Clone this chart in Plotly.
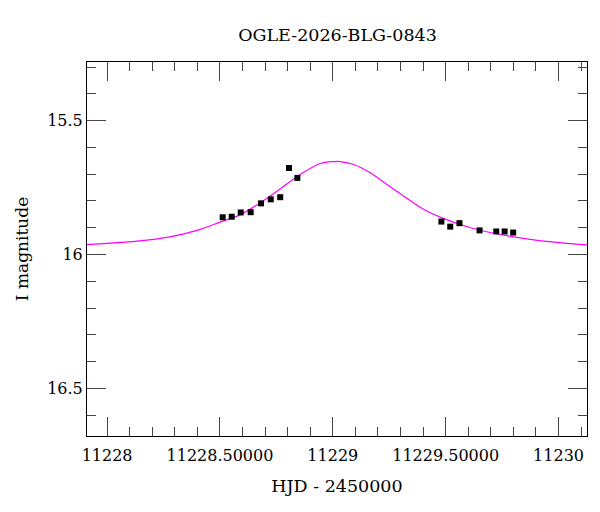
import plotly.graph_objects as go

# observed photometry (HJD - 2450000, I mag, error)
hjd = [11228.512, 11228.552, 11228.592, 11228.636, 11228.682, 11228.725,
       11228.767, 11228.806, 11228.843,
       11229.481, 11229.520, 11229.561, 11229.650, 11229.724, 11229.761, 11229.799]
mag = [15.861, 15.859, 15.843, 15.842, 15.809, 15.794,
       15.786, 15.677, 15.714,
       15.877, 15.896, 15.883, 15.910, 15.914, 15.914, 15.918]
err = [0.006] * len(hjd)

# model light curve, sampled off the figure
model_hjd = [11227.911, 11228.132, 11228.279, 11228.398, 11228.501, 11228.590,
             11228.678, 11228.767, 11228.856, 11228.945, 11229.004, 11229.033,
             11229.093, 11229.166, 11229.240, 11229.314, 11229.403, 11229.492,
             11229.610, 11229.758, 11229.906, 11230.126]
model_mag = [15.963, 15.950, 15.934, 15.910, 15.879, 15.851,
             15.807, 15.755, 15.701, 15.660, 15.653, 15.653,
             15.664, 15.695, 15.739, 15.782, 15.832, 15.866,
             15.900, 15.928, 15.947, 15.964]

x_ticks = [11228, 11228.5, 11229, 11229.5, 11230]
x_labels = ["11228", "11228.50000", "11229", "11229.50000", "11230"]
y_ticks = [15.5, 16, 16.5]
y_labels = ["15.5", "16", "16.5"]

font = "DejaVu Serif"

fig = go.Figure()
fig.add_trace(go.Scatter(
    x=model_hjd, y=model_mag, mode="lines", line=dict(color="#ff00ff", width=1.2, shape="spline"),
    hoverinfo="skip",
))
fig.add_trace(go.Scatter(
    x=hjd, y=mag, mode="markers",
    marker=dict(symbol="square", size=6, color="black"),
    error_y=dict(type="data", array=err, color="black", thickness=1, width=2),
))

axis_common = dict(
    showgrid=False, zeroline=False, showline=True, linecolor="black", linewidth=1,
    mirror="allticks", ticks="inside", tickcolor="#444", tickwidth=1, ticklen=19,
    tickfont=dict(family=font, size=16, color="black"),
)
minor_ticks = dict(dtick=0.1, ticks="inside", ticklen=9, tickcolor="#444", tickwidth=1, showgrid=False)

fig.update_xaxes(
    **axis_common, range=[11227.911, 11230.126],
    tickvals=x_ticks, ticktext=x_labels, ticklabelstandoff=5, minor=minor_ticks,
    title=dict(text="HJD - 2450000", font=dict(family=font, size=17.5, color="black"), standoff=15),
)
fig.update_yaxes(
    **axis_common, range=[16.678, 15.281],
    tickvals=y_ticks, ticktext=y_labels, minor=minor_ticks,
    title=dict(text="I magnitude", font=dict(family=font, size=17, color="black"), standoff=14),
)

fig.update_layout(
    width=600, height=512, showlegend=False,
    margin=dict(l=87, r=13, t=62, b=76),
    paper_bgcolor="white", plot_bgcolor="white",
    title=dict(text="OGLE-2026-BLG-0843", x=0.5625, xanchor="center", y=0.932, yanchor="middle",
               font=dict(family=font, size=17.5, color="black")),
)

fig.write_html("out.html", config={"displayModeBar": False},
               post_script="document.body.style.margin='0';")
